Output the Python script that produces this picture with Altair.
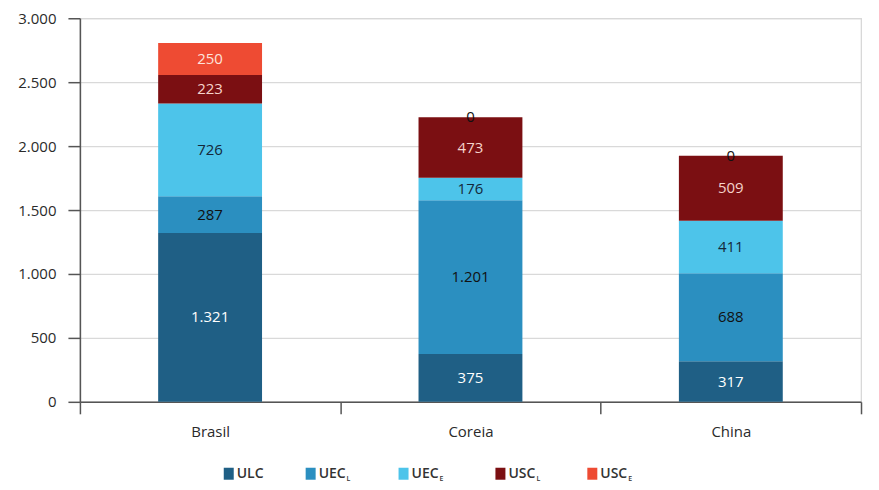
import altair as alt
import pandas as pd

countries = ["Brasil", "Coreia", "China"]
series = ["ULC", "UEC_L", "UEC_E", "USC_L", "USC_E"]
series_main = ["ULC", "UEC", "UEC", "USC", "USC"]
series_sub = ["", "L", "E", "L", "E"]
values = {
    "Brasil": [1321, 287, 726, 223, 250],
    "Coreia": [375, 1201, 176, 473, 0],
    "China": [317, 688, 411, 509, 0],
}
y_ticks = [0, 500, 1000, 1500, 2000, 2500, 3000]

bar_colors = ["#1f5f85", "#2b8fc0", "#4dc4ea", "#7b0f12", "#ee4b33"]
label_colors = ["#ffffff", "#111111", "#14283a", "#f5d3cb", "#fde3dc"]

rows = []
for c in countries:
    for i, s in enumerate(series):
        v = values[c][i]
        rows.append({"country": c, "series": s, "tseries": s, "idx": i, "value": v,
                     "label": f"{v:,}".replace(",", ".")})
df = pd.DataFrame(rows)

W, H = 782, 384
FONT = "Open Sans"

x_enc = alt.X("country:N", sort=countries,
              scale=alt.Scale(paddingInner=0, paddingOuter=0),
              axis=alt.Axis(title=None, tickBand="extent", tickSize=12,
                            labelPadding=11, labelFontSize=15, labelFontWeight=500,
                            labelColor="#2a2a2a",
                            labelFont=FONT, domainColor="#555", tickColor="#555",
                            domainWidth=1.5, tickWidth=1.5, labelAngle=0, grid=False))
y_scale = alt.Scale(domain=[0, 3000], nice=False)

bars = alt.Chart(df).mark_bar(size=104).encode(
    x=x_enc,
    y=alt.Y("value:Q", stack="zero", scale=y_scale,
            axis=alt.Axis(title=None, values=y_ticks, tickSize=12, labelPadding=12,
                          labelFontSize=15, labelFontWeight=500, labelColor="#2a2a2a",
                          labelFont=FONT,
                          labelExpr="replace(format(datum.value, ','), ',', '.')",
                          domainColor="#555", tickColor="#555", domainWidth=1.5,
                          tickWidth=1.5, grid=True, gridColor="#d9d9d9", gridWidth=1.2)),
    color=alt.Color("series:N", scale=alt.Scale(domain=series, range=bar_colors), legend=None),
    order=alt.Order("idx:Q"),
)

labels = alt.Chart(df).transform_stack(
    stack="value", groupby=["country"], as_=["y0", "y1"],
    sort=[alt.SortField("idx", order="ascending")]
).transform_calculate(
    mid="(datum.y0 + datum.y1) / 2"
).mark_text(font=FONT, fontSize=15, fontWeight=500, baseline="middle", align="center").encode(
    x=alt.X("country:N", sort=countries),
    y=alt.Y("mid:Q", scale=y_scale),
    text="label:N",
    fill=alt.condition("datum.value == 0", alt.value("#111111"),
                       alt.Fill("tseries:N", scale=alt.Scale(domain=series, range=label_colors),
                                legend=None)),
)

leg_df = pd.DataFrame({"series": series, "main": series_main, "sub": series_sub})
leg_lefts = [144, 226, 319, 416, 508]
main_w = [0, 28, 28, 28, 28]
leg_y = H + 72
legend_layers = []
for i, s in enumerate(series):
    base = alt.Chart(leg_df).transform_filter(alt.datum.series == s)
    l = leg_lefts[i]
    legend_layers.append(base.mark_rect(color=bar_colors[i]).encode(
        x=alt.value(l), x2=alt.value(l + 10),
        y=alt.value(leg_y - 6), y2=alt.value(leg_y + 6)))
    legend_layers.append(base.mark_text(font=FONT, fontSize=14, fontWeight=600,
                                        align="left", baseline="middle",
                                        color="#333").encode(
        x=alt.value(l + 13), y=alt.value(leg_y), text="main:N"))
    if series_sub[i]:
        legend_layers.append(base.mark_text(font=FONT, fontSize=7, fontWeight=600,
                                            align="left", baseline="middle",
                                            color="#333").encode(
            x=alt.value(l + 13 + main_w[i]), y=alt.value(leg_y + 5), text="sub:N"))

chart = alt.layer(bars, labels, *legend_layers).resolve_scale(
    color="independent", fill="independent"
).properties(
    width=W, height=H,
    autosize=alt.AutoSizeParams(type="none"),
    padding={"left": 72, "top": 10, "right": 10, "bottom": 82},
    background="white",
).configure_view(stroke="#d5d5d5", strokeWidth=1.2)

chart.save("out.html", embed_options={"renderer": "svg", "actions": False})
